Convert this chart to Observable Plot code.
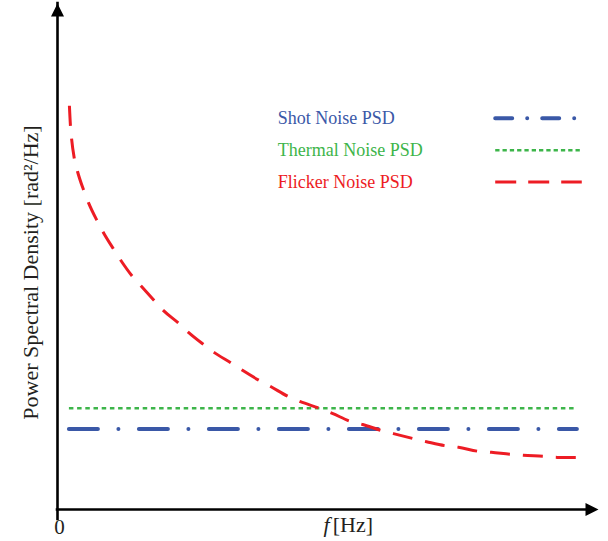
<!DOCTYPE html>
<html>
<head>
<meta charset="utf-8">
<script src="https://cdn.jsdelivr.net/npm/d3@7"></script>
<script src="https://cdn.jsdelivr.net/npm/@observablehq/plot@0.6"></script>
<style>
  html, body { margin: 0; padding: 0; background: #ffffff; }
  #chart { width: 608px; height: 541px; }
</style>
</head>
<body>
<div id="chart"></div>
<script>
// ---- data ----
const flickerF = [2.2, 2.4, 2.6, 3.1, 3.7, 4.8, 5.7, 7.4, 8.5, 10.4, 11.6, 13.9, 15.5, 17.2, 19.6, 22.4, 24.2, 27.0, 29.0, 32.2, 34.2, 37.3, 39.4, 42.7, 44.9, 48.4, 50.8, 54.2, 56.4, 59.9, 62.1, 65.8, 68.2, 71.7, 74.1, 77.8, 80.2, 83.7, 86.1, 90.0, 92.4, 96.1];
const flickerPSD = [79.8, 75.7, 73.3, 69.4, 66.8, 63.2, 60.7, 56.9, 54.7, 51.4, 49.4, 46.0, 44.1, 42.1, 39.3, 36.8, 35.0, 32.6, 31.0, 28.9, 27.5, 25.5, 24.3, 22.3, 21.3, 20.0, 19.0, 17.4, 16.8, 15.6, 15.0, 14.0, 13.4, 12.6, 12.3, 11.5, 11.3, 10.9, 10.7, 10.5, 10.3, 10.3];
const shotPSD = 15.9;
const thermalPSD = 20.0;
const freqRange = [2.2, 96.1];
const legendLabels = ["Shot Noise PSD", "Thermal Noise PSD", "Flicker Noise PSD"];
const xTickLabels = ["0"];
const xLabelItalic = "f";
const xLabelUnit = "[Hz]";
const yLabel = "Power Spectral Density [rad\u00B2/Hz]";

// ---- styling ----
const blue = "#3a58a7", green = "#3db54a", red = "#ed1c24";
const colors = [blue, green, red];
const dashes = ["29,20.5,0,20.5", "4.5,3.7", "20,13"];
const legendDashes = ["17,15,0,15", "4.3,3", "21,12"];
const caps = ["round", "butt", "butt"];
const widths = [4, 2.6, 3];
const serif = "'Liberation Serif', 'Times New Roman', serif";
const ink = "#231f20";

const flicker = flickerF.map((f, i) => ({f, p: flickerPSD[i]}));
const legend = legendLabels.map((label, i) => ({label, i, y: 77.3 - i * 6.3}));

const arrowHead = {
  draw(ctx) { ctx.moveTo(0, 0); ctx.lineTo(-6.5, 13); ctx.lineTo(6.5, 13); ctx.closePath(); }
};

const xDom = [0, 100], yDom = [0, 100];

const chart = Plot.plot({
  width: 608,
  height: 541,
  marginLeft: 57,
  marginRight: 10,
  marginTop: 3,
  marginBottom: 32,
  x: {domain: xDom, axis: null},
  y: {domain: yDom, axis: null},
  style: {background: "#ffffff", fontFamily: serif},
  marks: [
    // axes
    Plot.ruleX([xDom[0]], {y1: yDom[0], y2: yDom[1], stroke: "#000", strokeWidth: 2.6, insetTop: 10, strokeLinecap: "square"}),
    Plot.ruleY([yDom[0]], {x1: xDom[0], x2: xDom[1], stroke: "#000", strokeWidth: 2.6, insetRight: 10, strokeLinecap: "square"}),
    Plot.dot([{x: xDom[0], y: yDom[1]}], {x: "x", y: "y", symbol: arrowHead, fill: "#000", stroke: "none", r: 5}),
    Plot.dot([{x: xDom[1], y: yDom[0]}], {x: "x", y: "y", symbol: arrowHead, fill: "#000", stroke: "none", r: 5, rotate: 90}),
    // thermal
    Plot.ruleY([thermalPSD], {x1: freqRange[0], x2: freqRange[1], stroke: green, strokeWidth: widths[1], strokeDasharray: dashes[1], strokeLinecap: caps[1]}),
    // shot
    Plot.ruleY([shotPSD], {x1: freqRange[0], x2: freqRange[1], stroke: blue, strokeWidth: widths[0], strokeDasharray: dashes[0], strokeLinecap: caps[0]}),
    // flicker
    Plot.line(flicker, {x: "f", y: "p", curve: "monotone-x", stroke: red, strokeWidth: widths[2], strokeDasharray: dashes[2], strokeLinecap: caps[2]}),
    // legend
    Plot.text(legend, {x: 40.7, y: "y", text: "label", fill: (d) => colors[d.i], textAnchor: "start", lineAnchor: "middle", fontSize: 18, fontFamily: serif}),
    ...legend.map((d) => Plot.ruleY([d.y], {x1: 81, x2: 97, stroke: colors[d.i], strokeWidth: widths[d.i], strokeDasharray: legendDashes[d.i], strokeLinecap: caps[d.i]})),
    // axis labels
    Plot.text(xTickLabels, {x: xDom[0], y: yDom[0], text: (d) => d, dx: 2, dy: 18, fontSize: 21, fill: ink, fontFamily: serif}),
    Plot.text([xLabelItalic], {x: 50.5, y: yDom[0], text: (d) => d, textAnchor: "end", dx: -1, dy: 15, fontSize: 22, fontStyle: "italic", fill: ink, fontFamily: serif}),
    Plot.text([xLabelUnit], {x: 50.5, y: yDom[0], text: (d) => d, textAnchor: "start", dx: 2, dy: 15, fontSize: 22, fill: ink, fontFamily: serif}),
    Plot.text([yLabel], {frameAnchor: "left", text: (d) => d, textAnchor: "middle", rotate: -90, dx: -27, dy: 16, fontSize: 22, fill: ink, fontFamily: serif})
  ]
});
document.getElementById("chart").appendChild(chart);
</script>
</body>
</html>
